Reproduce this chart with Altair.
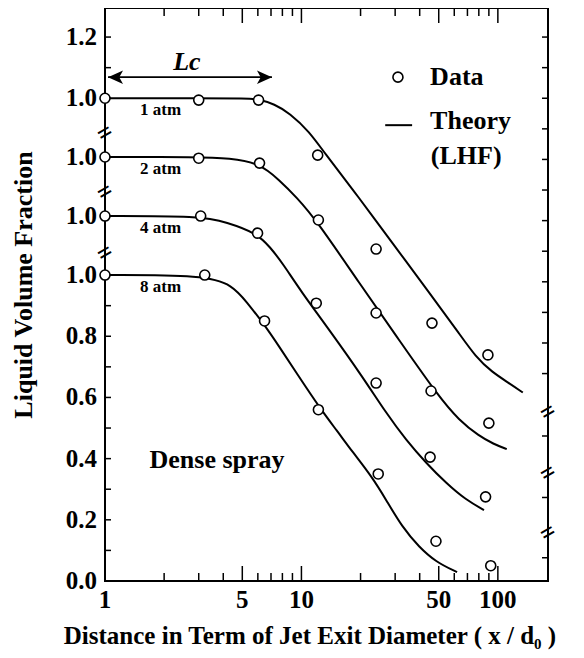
import altair as alt
import pandas as pd

# ---------------- data ----------------
SERIES = ["1 atm", "2 atm", "4 atm", "8 atm"]
# vertical stacking offset of each curve (broken axis)
OFFSETS = [0.578, 0.386, 0.193, 0.0]

DATA_X = {
    "1 atm": [1, 3.0, 6.05, 12.1, 24.0, 46.2, 89.0],
    "2 atm": [1, 3.0, 6.12, 12.2, 24.0, 45.7, 90.0],
    "4 atm": [1, 3.07, 5.98, 11.9, 24.0, 45.2, 86.6],
    "8 atm": [1, 3.22, 6.49, 12.2, 24.6, 48.4, 92.0],
}
DATA_V = {
    "1 atm": [1.0, 0.994, 0.994, 0.814, 0.507, 0.265, 0.161],
    "2 atm": [1.0, 0.996, 0.980, 0.794, 0.490, 0.235, 0.130],
    "4 atm": [1.0, 1.0, 0.944, 0.715, 0.454, 0.212, 0.082],
    "8 atm": [1.0, 1.0, 0.850, 0.560, 0.350, 0.130, 0.050],
}

THEORY_X = {
    "1 atm": [1, 3, 5.3, 6.0, 7.3, 8.7, 11.0, 12.8, 19.7, 29.0, 44.6, 63.4, 77.3, 93.3, 114, 134],
    "2 atm": [1, 3, 4.3, 6.12, 7.73, 9.43, 11.9, 19.7, 31.4, 50.2, 63.4, 80.1, 95, 111],
    "4 atm": [1, 3.07, 4.16, 5.91, 6.92, 8.07, 9.84, 14.0, 20.5, 27.0, 34.1, 43.1, 54.5, 68.8, 85],
    "8 atm": [1, 3.22, 4.46, 5.26, 6.34, 7.73, 9.43, 12.6, 15.1, 18.2, 22.9, 27.0, 32.6, 39.7, 48.4, 62.0],
}
THEORY_V = {
    "1 atm": [1.0, 1.0, 1.0, 0.997, 0.981, 0.951, 0.89, 0.83, 0.674, 0.527, 0.366, 0.232, 0.154, 0.105, 0.069, 0.038],
    "2 atm": [1.0, 1.0, 0.996, 0.980, 0.924, 0.869, 0.794, 0.588, 0.402, 0.215, 0.140, 0.088, 0.062, 0.045],
    "4 atm": [1.0, 1.0, 0.980, 0.944, 0.899, 0.843, 0.758, 0.624, 0.474, 0.356, 0.268, 0.193, 0.127, 0.072, 0.039],
    "8 atm": [1.0, 1.0, 0.967, 0.912, 0.846, 0.765, 0.680, 0.559, 0.493, 0.422, 0.340, 0.265, 0.176, 0.111, 0.062, 0.029],
}

# axis tick values (in stacked plot units) and their labels
LEFT_TICKS = [0.0, 0.2, 0.4, 0.6, 0.8, 1.0, 1.193, 1.386, 1.578, 1.778]
LEFT_LABELS = ["0.0", "0.2", "0.4", "0.6", "0.8", "1.0", "1.0", "1.0", "1.0", "1.2"]
LEFT_MINOR = [0.1, 0.3, 0.5, 0.7, 0.9, 1.678]
LEFT_BREAKS = [1.464, 1.271, 1.072]
RIGHT_TICKS = [1.778, 1.678, 1.578, 1.478, 1.378, 1.278, 1.178, 1.078, 0.978,
               0.878, 0.778, 0.678, 0.474, 0.273, 0.076]
RIGHT_BREAKS = [0.552, 0.353, 0.157]
X_LABEL_VALUES = [1, 5, 10, 50, 100]
X_LABELS = ["1", "5", "10", "50", "100"]
X_MAJOR = [5, 10, 50, 100]
X_MINOR = [2, 3, 4, 6, 7, 8, 9, 20, 30, 40, 60, 70, 80, 90]

Y_TITLE = "Liquid Volume Fraction"
X_TITLE = "Distance in Term of Jet Exit Diameter ( x / d\u2080 )"

X_DOMAIN = [1, 180]
Y_DOMAIN = [0, 1.873]
W, H = 443, 573
FONT = "Liberation Serif"

# ---------------- tables ----------------
pts, lines = [], []
for s, off in zip(SERIES, OFFSETS):
    for x, v in zip(DATA_X[s], DATA_V[s]):
        pts.append({"series": s, "x": x, "u": v + off})
    for i, (x, v) in enumerate(zip(THEORY_X[s], THEORY_V[s])):
        lines.append({"series": s, "x": x, "u": v + off, "i": i})
pts = pd.DataFrame(pts)
lines = pd.DataFrame(lines)

xs = alt.Scale(type="log", domain=X_DOMAIN, nice=False)
ys = alt.Scale(domain=Y_DOMAIN, nice=False, zero=False)

X = alt.X("x:Q", scale=xs, axis=None)
Y = alt.Y("u:Q", scale=ys, axis=None)


def txt(df, **kw):
    base = dict(font=FONT, fontWeight="bold", color="black", baseline="middle")
    base.update(kw)
    return alt.Chart(df).mark_text(**base)


curves = alt.Chart(lines).mark_line(color="black", strokeWidth=2, interpolate="basis").encode(
    x=X, y=Y, detail="series:N", order="i:Q")

points = alt.Chart(pts).mark_point(shape="circle", filled=True, fill="white", stroke="black",
                                   strokeWidth=1.6, size=100, opacity=1).encode(x=X, y=Y)

# inward ticks
lt = pd.DataFrame({"u": LEFT_TICKS + LEFT_MINOR})
left_ticks = alt.Chart(lt).mark_rule(color="black", strokeWidth=1.5).encode(
    y=Y, x=alt.value(0), x2=alt.value(6))
rt = pd.DataFrame({"u": RIGHT_TICKS})
right_ticks = alt.Chart(rt).mark_rule(color="black", strokeWidth=1.5).encode(
    y=Y, x=alt.value(W - 6), x2=alt.value(W))
xmaj = pd.DataFrame({"x": X_MAJOR})
xmin = pd.DataFrame({"x": X_MINOR})
bot_major = alt.Chart(xmaj).mark_rule(color="black", strokeWidth=1.5).encode(
    x=X, y=alt.value(H - 15), y2=alt.value(H))
bot_minor = alt.Chart(xmin).mark_rule(color="black", strokeWidth=1.5).encode(
    x=X, y=alt.value(H - 8), y2=alt.value(H))
top_major = alt.Chart(xmaj).mark_rule(color="black", strokeWidth=1.5).encode(
    x=X, y=alt.value(0), y2=alt.value(15))
top_minor = alt.Chart(xmin).mark_rule(color="black", strokeWidth=1.5).encode(
    x=X, y=alt.value(0), y2=alt.value(8))

# tick labels and axis titles (real text)
yl = pd.DataFrame({"u": LEFT_TICKS, "t": LEFT_LABELS})
y_labels = txt(yl, fontSize=25, align="right").encode(y=Y, x=alt.value(-8), text="t:N")
xl = pd.DataFrame({"x": X_LABEL_VALUES, "t": X_LABELS})
x_labels = txt(xl, fontSize=25, align="center").encode(x=X, y=alt.value(H + 19), text="t:N")
y_title = txt(pd.DataFrame({"t": [Y_TITLE]}), fontSize=26, align="center", angle=270).encode(
    x=alt.value(-81), y=alt.value(277), text="t:N")
x_title = txt(pd.DataFrame({"t": [X_TITLE]}), fontSize=25, align="center").encode(
    x=alt.value(205), y=alt.value(H + 55), text="t:N")

# axis break marks
lb = pd.DataFrame({"u": LEFT_BREAKS, "t": ["="] * len(LEFT_BREAKS)})
left_breaks = txt(lb, fontSize=26, angle=330).encode(y=Y, x=alt.value(0), text="t:N")
rb = pd.DataFrame({"u": RIGHT_BREAKS, "t": ["="] * len(RIGHT_BREAKS)})
right_breaks = txt(rb, fontSize=26, angle=330).encode(y=Y, x=alt.value(W), text="t:N")

# pressure labels under the plateaus
LABEL_X = 1.92
LABEL_V = 0.962
pl = pd.DataFrame({"x": [LABEL_X] * 4, "u": [LABEL_V + o for o in OFFSETS], "t": SERIES})
press_labels = txt(pl, fontSize=17).encode(x=X, y=Y, text="t:N")

# annotations
dense = txt(pd.DataFrame({"x": [3.72], "u": [0.395], "t": ["Dense spray"]}), fontSize=26).encode(
    x=X, y=Y, text="t:N")
lc_text = txt(pd.DataFrame({"x": [2.61], "u": [1.696], "t": ["Lc"]}), fontSize=26,
              fontStyle="italic").encode(x=X, y=Y, text="t:N")

LC_START, LC_END, LC_U = 1.036, 7.08, 1.647
arrow_df = pd.DataFrame({"x": [LC_START, LC_END], "u": [LC_U, LC_U]})
arrow_line = alt.Chart(arrow_df).mark_line(color="black", strokeWidth=1.8).encode(x=X, y=Y)
head_l = alt.Chart(arrow_df.iloc[[0]]).mark_point(
    shape="M0,0L2,-0.9L1.5,0L2,0.9Z", filled=True, color="black", size=225, opacity=1).encode(
    x=X, y=Y)
head_r = alt.Chart(arrow_df.iloc[[1]]).mark_point(
    shape="M0,0L-2,-0.9L-1.5,0L-2,0.9Z", filled=True, color="black", size=225, opacity=1).encode(
    x=X, y=Y)

# manual legend
leg_pt = alt.Chart(pd.DataFrame({"x": [31.0], "u": [1.647]})).mark_point(
    shape="circle", filled=True, fill="white", stroke="black", strokeWidth=1.6, size=100,
    opacity=1).encode(x=X, y=Y)
leg_line = alt.Chart(pd.DataFrame({"x": [26.7, 36.6], "u": [1.490, 1.490]})).mark_line(
    color="black", strokeWidth=2).encode(x=X, y=Y)
leg_txt = txt(pd.DataFrame({"x": [45.2, 45.2, 45.6], "u": [1.647, 1.503, 1.389],
                            "t": ["Data", "Theory", "(LHF)"]}), fontSize=26,
              align="left").encode(x=X, y=Y, text="t:N")

chart = alt.layer(
    curves, left_ticks, right_ticks, bot_major, bot_minor, top_major, top_minor,
    points, y_labels, x_labels, y_title, x_title, left_breaks, right_breaks,
    press_labels, dense, lc_text, arrow_line, head_l, head_r, leg_pt, leg_line, leg_txt
).properties(
    width=W, height=H,
    autosize=alt.AutoSizeParams(type="none"),
    padding={"left": 97, "top": 0, "right": 28, "bottom": 69},
    background="white",
).configure_view(stroke="black", strokeWidth=2).configure_text(font=FONT)

chart.save("out.html", embed_options={"renderer": "svg", "actions": False})
